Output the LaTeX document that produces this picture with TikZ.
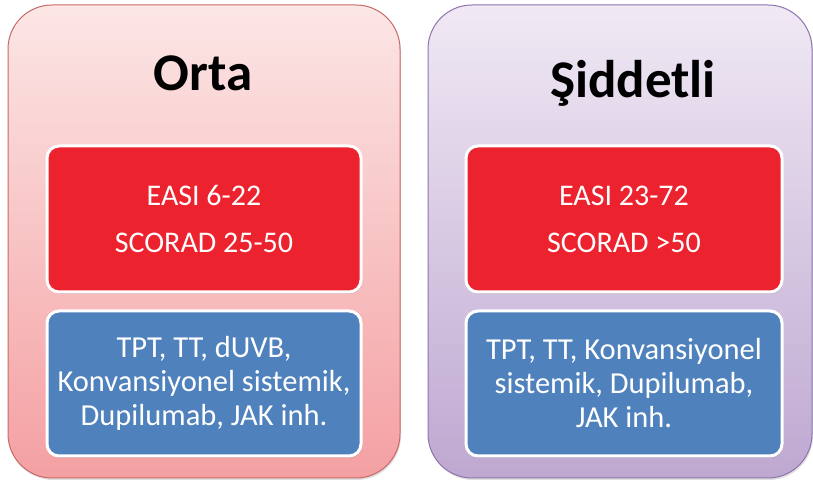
\documentclass[tikz,border=0pt]{standalone}
\usepackage{fontspec}
\setmainfont{Carlito}
\usetikzlibrary{shadows}

\definecolor{ortaTop}{HTML}{FCE6E6}
\definecolor{ortaBot}{HTML}{F4A0A2}
\definecolor{ortaLine}{HTML}{C86A6A}
\definecolor{sidTop}{HTML}{F0E9F4}
\definecolor{sidBot}{HTML}{BEA8D1}
\definecolor{sidLine}{HTML}{8E75B0}
\definecolor{scoreRed}{HTML}{EC222E}
\definecolor{treatBlue}{HTML}{4F81BD}

\tikzset{
  panel/.style={rounded corners=44pt, line width=1pt,
    drop shadow={opacity=0.25, shadow xshift=1pt, shadow yshift=-2pt}},
  inbox/.style={rounded corners=12pt, draw=white, line width=3pt,
    text=white, align=center,
    drop shadow={opacity=0.3, shadow xshift=1pt, shadow yshift=-2pt}},
  score/.style={inbox, fill=scoreRed, minimum height=146pt,
    font=\fontsize{30}{47}\selectfont},
  treat/.style={inbox, fill=treatBlue, minimum height=145pt,
    font=\fontsize{30.5}{34}\selectfont},
  heading/.style={anchor=base, font=\fontsize{53}{60}\selectfont\bfseries}
}

\begin{document}
\begin{tikzpicture}[x=1pt,y=1pt]
\useasboundingbox (0,0) rectangle (813,481);

% outer panels
\node[panel, draw=ortaLine, top color=ortaTop, bottom color=ortaBot,
      minimum width=392pt, minimum height=473pt] (orta) at (204,239.5) {};
\node[panel, draw=sidLine, top color=sidTop, bottom color=sidBot,
      minimum width=384pt, minimum height=473pt] (siddet) at (620,239.5) {};

% headings
\node[heading] (ortaT) at (203,390) {Orta};
\node[heading] (siddetT) at (633,383) {Şiddetli};

% scores
\node[score, minimum width=314pt] (ortaS) at (204,262) {EASI 6-22\\SCORAD 25-50};
\node[score, minimum width=316pt] (siddetS) at (624,262) {EASI 23-72\\SCORAD >50};

% treatments
\node[treat, minimum width=314pt] (ortaR) at (204,97.5)
  {TPT, TT, dUVB,\\Konvansiyonel sistemik,\\Dupilumab, JAK inh.};
\node[treat, minimum width=316pt] (siddetR) at (624,97.5)
  {TPT, TT, Konvansiyonel\\sistemik, Dupilumab,\\JAK inh.};
\end{tikzpicture}
\end{document}
